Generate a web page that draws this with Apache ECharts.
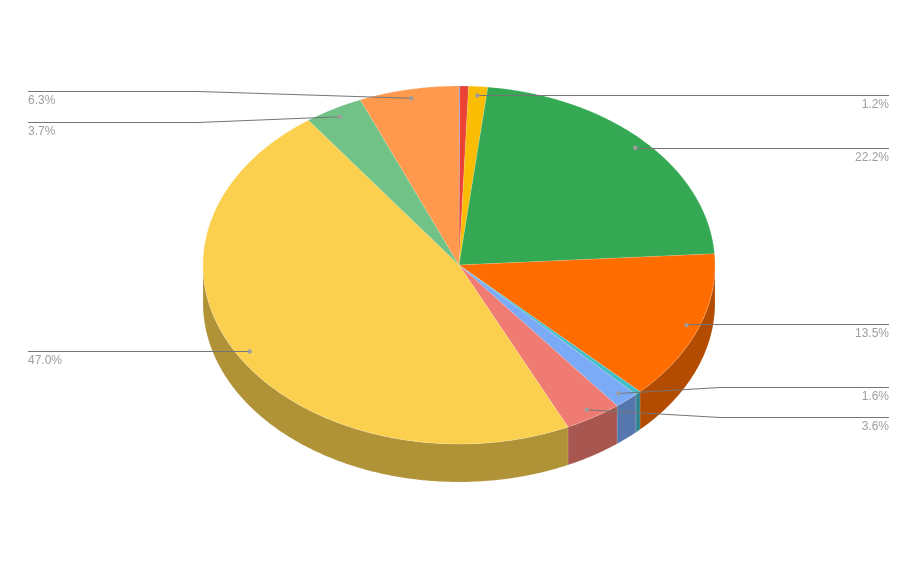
<!DOCTYPE html>
<html>
<head>
<meta charset="utf-8">
<style>html,body{margin:0;padding:0;background:#fff}#c{width:918px;height:568px}</style>
<script src="https://cdn.jsdelivr.net/npm/echarts@6/dist/echarts.min.js"></script>
</head>
<body>
<div id="c"></div>
<script>
// Slice values in percent, clockwise from 12 o'clock
const sliceValues = [0.05, 0.55, 1.2, 22.2, 13.5, 0.36, 1.55, 3.59, 47.0, 3.7, 6.3];
const sliceColors = ['#4285f4', '#ea4335', '#fbbc04', '#34a853', '#ff6d00', '#46bdc6', '#7baaf7', '#f07b72', '#fcd04f', '#71c287', '#ff994d'];

// Leader layout per slice (null = unlabelled)
const leaderLayout = [
  null, null,
  { side: 'r', y: 95 },
  { side: 'r', y: 148 },
  { side: 'r', y: 324 },
  null,
  { side: 'r', y: 387, elbow: 720 },
  { side: 'r', y: 417, elbow: 720 },
  { side: 'l', y: 351 },
  { side: 'l', y: 122, elbow: 198 },
  { side: 'l', y: 91, elbow: 198 }
];

const CX = 459, CY = 265, RX = 256, RY = 179, DEPTH = 38;
const LEFT_X = 28, RIGHT_X = 889, ANCHOR = 0.95;
const total = sliceValues.reduce((a, b) => a + b, 0);
const starts = [];
sliceValues.reduce((acc, v, i) => { starts[i] = acc; return acc + v; }, 0);
const ang = f => f / total * 2 * Math.PI;
const pt = (t, k, dy) => [CX + RX * k * Math.sin(t), CY - RY * k * Math.cos(t) + (dy || 0)];
function arc(a, b, dy) {
  const n = Math.max(2, Math.ceil((b - a) / 0.008));
  const out = [];
  for (let i = 0; i <= n; i++) out.push(pt(a + (b - a) * i / n, 1, dy));
  return out;
}
function dark(hex) {
  const n = parseInt(hex.slice(1), 16);
  const c = s => Math.round(((n >> s) & 255) * 0.7);
  return 'rgb(' + c(16) + ',' + c(8) + ',' + c(0) + ')';
}
const seam = 'rgba(255,255,255,0.22)';

function renderWall(params, api) {
  const i = params.dataIndex;
  const a = Math.max(ang(starts[i]), Math.PI / 2);
  const b = Math.min(ang(starts[i] + api.value(0)), Math.PI * 1.5);
  if (b <= a) return null;
  const pts = arc(a, b, 0).concat(arc(a, b, DEPTH).reverse());
  return { type: 'polygon', shape: { points: pts }, style: { fill: dark(sliceColors[i]), stroke: seam, lineWidth: 0.6 }, silent: true };
}
function renderTop(params, api) {
  const i = params.dataIndex;
  const a = ang(starts[i]), b = ang(starts[i] + api.value(0));
  const pts = [[CX, CY]].concat(arc(a, b, 0));
  return { type: 'polygon', shape: { points: pts }, style: { fill: sliceColors[i], stroke: seam, lineWidth: 0.6 }, silent: true };
}
function renderLeader(params, api) {
  const i = params.dataIndex, L = leaderLayout[i];
  if (!L) return null;
  const v = api.value(0);
  const p = pt(ang(starts[i] + v / 2), ANCHOR);
  const endX = L.side === 'r' ? RIGHT_X : LEFT_X;
  const ly = L.y + 0.5;
  const pts = L.elbow ? [p, [L.elbow, ly], [endX, ly]] : [p, [p[0], ly], [endX, ly]];
  return {
    type: 'group', silent: true,
    children: [
      { type: 'polyline', shape: { points: pts }, style: { fill: null, stroke: '#757575', lineWidth: 1.1 } },
      { type: 'circle', shape: { cx: p[0], cy: p[1], r: 2.2 }, style: { fill: '#9e9e9e' } },
      { type: 'text', style: { text: labelFor(v), x: endX, y: L.y + 10, align: L.side === 'r' ? 'right' : 'left', verticalAlign: 'middle', fill: '#9e9e9e', font: '12px "Liberation Sans", Arial, sans-serif' } }
    ]
  };
}
function labelFor(v) { return v.toFixed(1) + '%'; }

const chart = echarts.init(document.getElementById('c'), null, { renderer: 'canvas' });
const data = sliceValues.map(v => [v]);
chart.setOption({
  animation: false,
  backgroundColor: '#ffffff',
  series: [
    { type: 'custom', coordinateSystem: 'none', z: 1, data: data, renderItem: renderWall },
    { type: 'custom', coordinateSystem: 'none', z: 2, data: data, renderItem: renderTop },
    { type: 'custom', coordinateSystem: 'none', z: 3, data: data, renderItem: renderLeader }
  ]
});
</script>
</body>
</html>
